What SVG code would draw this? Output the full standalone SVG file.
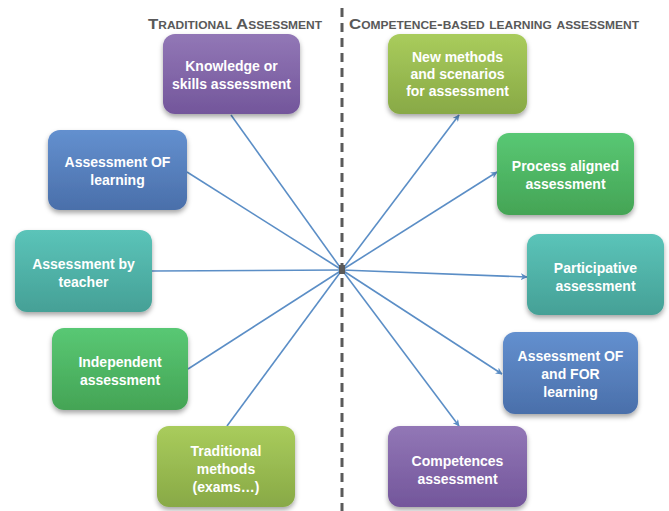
<svg xmlns="http://www.w3.org/2000/svg" width="669" height="511" viewBox="0 0 669 511">
<defs>
<linearGradient id="gPurple" x1="0" y1="0" x2="0" y2="1"><stop offset="0" stop-color="#9277b6"/><stop offset="1" stop-color="#73569b"/></linearGradient>
<linearGradient id="gOlive" x1="0" y1="0" x2="0" y2="1"><stop offset="0" stop-color="#a9cc5c"/><stop offset="1" stop-color="#88a946"/></linearGradient>
<linearGradient id="gBlue" x1="0" y1="0" x2="0" y2="1"><stop offset="0" stop-color="#6390cf"/><stop offset="1" stop-color="#4a6faa"/></linearGradient>
<linearGradient id="gGreen" x1="0" y1="0" x2="0" y2="1"><stop offset="0" stop-color="#59c874"/><stop offset="1" stop-color="#44a455"/></linearGradient>
<linearGradient id="gTeal" x1="0" y1="0" x2="0" y2="1"><stop offset="0" stop-color="#5bc4b9"/><stop offset="1" stop-color="#45a096"/></linearGradient>
<filter id="sh" x="-20%" y="-20%" width="140%" height="150%"><feDropShadow dx="0" dy="3" stdDeviation="2.5" flood-color="#000" flood-opacity="0.35"/></filter>
<marker id="arr" viewBox="0 0 10 10" refX="9" refY="5" markerWidth="7" markerHeight="7" orient="auto" markerUnits="userSpaceOnUse"><path d="M0,0 L10,5 L0,10 L3,5 z" fill="#5b8ec6"/></marker>
</defs>
<style>
.box{filter:url(#sh);}
.t{font-family:"Liberation Sans",Arial,sans-serif;font-weight:bold;font-size:14px;fill:#ffffff;text-anchor:middle;}
.h{font-family:"Liberation Sans",Arial,sans-serif;font-weight:bold;font-size:15.5px;fill:#595959;font-variant:small-caps;}
.c{stroke:#5b8ec6;stroke-width:1.6;fill:none;}
</style>
<rect width="669" height="511" fill="#ffffff"/>
<text class="h" x="148" y="29" textLength="174" lengthAdjust="spacingAndGlyphs">Traditional Assessment</text>
<text class="h" x="349" y="29" textLength="290" lengthAdjust="spacingAndGlyphs">Competence-based learning assessment</text>
<line x1="342" y1="8" x2="342" y2="511" stroke="#5a5a5a" stroke-width="3" stroke-dasharray="9,6"/>
<g id="connectors">
<line class="c" x1="231" y1="115" x2="342" y2="270"/>
<line class="c" x1="187" y1="172" x2="342" y2="270"/>
<line class="c" x1="152" y1="271" x2="342" y2="270"/>
<line class="c" x1="188" y1="369" x2="342" y2="270"/>
<line class="c" x1="227" y1="426" x2="342" y2="270"/>
<line class="c" x1="342" y1="270" x2="459" y2="115" marker-end="url(#arr)"/>
<line class="c" x1="342" y1="270" x2="497" y2="172" marker-end="url(#arr)"/>
<line class="c" x1="342" y1="270" x2="527" y2="277" marker-end="url(#arr)"/>
<line class="c" x1="342" y1="270" x2="502" y2="374" marker-end="url(#arr)"/>
<line class="c" x1="342" y1="270" x2="459" y2="426" marker-end="url(#arr)"/>
</g>
<rect x="339" y="265" width="6" height="9" fill="#5a5a5a"/>
<g id="n-knowledge"><rect class="box" x="163" y="34" width="137" height="80" rx="12" fill="url(#gPurple)"/><text class="t" x="231.5" y="71">Knowledge or</text><text class="t" x="231.5" y="89">skills assessment</text></g>
<g id="n-newmethods"><rect class="box" x="388" y="34" width="139" height="80" rx="12" fill="url(#gOlive)"/><text class="t" x="457.5" y="62">New methods</text><text class="t" x="457.5" y="79">and scenarios</text><text class="t" x="457.5" y="96">for assessment</text></g>
<g id="n-oflearning"><rect class="box" x="48" y="130" width="139" height="80" rx="12" fill="url(#gBlue)"/><text class="t" x="117.5" y="167">Assessment OF</text><text class="t" x="117.5" y="185">learning</text></g>
<g id="n-process"><rect class="box" x="497" y="133" width="137" height="82" rx="12" fill="url(#gGreen)"/><text class="t" x="565.5" y="171">Process aligned</text><text class="t" x="565.5" y="189">assessment</text></g>
<g id="n-teacher"><rect class="box" x="15" y="230" width="137" height="82" rx="12" fill="url(#gTeal)"/><text class="t" x="83.5" y="269">Assessment by</text><text class="t" x="83.5" y="287">teacher</text></g>
<g id="n-participative"><rect class="box" x="527" y="234" width="137" height="81" rx="12" fill="url(#gTeal)"/><text class="t" x="595.5" y="273">Participative</text><text class="t" x="595.5" y="291">assessment</text></g>
<g id="n-independent"><rect class="box" x="52" y="328" width="136" height="82" rx="12" fill="url(#gGreen)"/><text class="t" x="120" y="367">Independent</text><text class="t" x="120" y="385">assessment</text></g>
<g id="n-offor"><rect class="box" x="503" y="332" width="135" height="82" rx="12" fill="url(#gBlue)"/><text class="t" x="570.5" y="361">Assessment OF</text><text class="t" x="570.5" y="379">and FOR</text><text class="t" x="570.5" y="397">learning</text></g>
<g id="n-traditional"><rect class="box" x="157" y="426" width="138" height="81" rx="12" fill="url(#gOlive)"/><text class="t" x="226" y="456">Traditional</text><text class="t" x="226" y="474">methods</text><text class="t" x="226" y="492">(exams…)</text></g>
<g id="n-competences"><rect class="box" x="388" y="426" width="139" height="81" rx="12" fill="url(#gPurple)"/><text class="t" x="457.5" y="466">Competences</text><text class="t" x="457.5" y="484">assessment</text></g>
</svg>
